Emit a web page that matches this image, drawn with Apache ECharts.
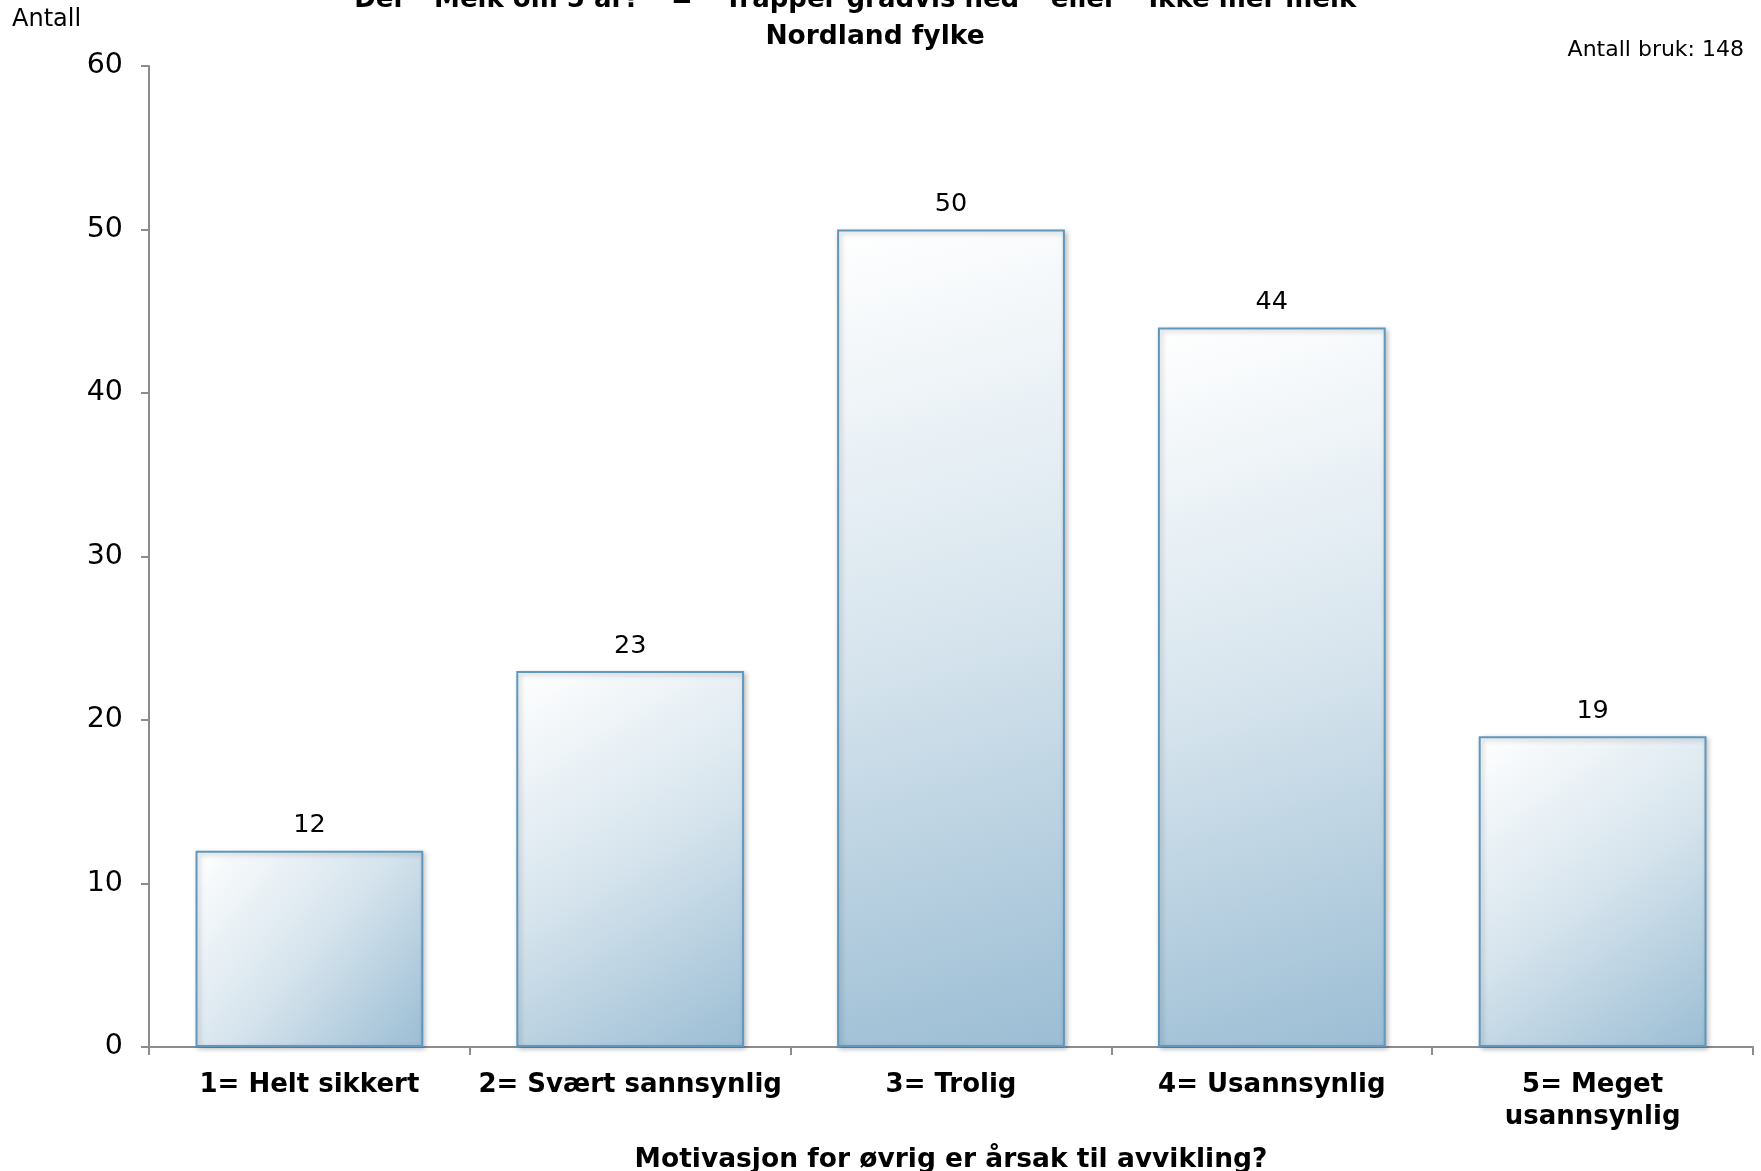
<!DOCTYPE html>
<html>
<head>
<meta charset="utf-8">
<title>Nordland fylke</title>
<script src="https://cdn.jsdelivr.net/npm/echarts@6/dist/echarts.min.js"></script>
<style>
  html, body { margin: 0; padding: 0; background: #fff; }
  #main { width: 1761px; height: 1171px; }
</style>
</head>
<body>
<div id="main"></div>
<script>
var categories = ['1= Helt sikkert', '2= Svært sannsynlig', '3= Trolig', '4= Usannsynlig', '5= Meget\nusannsynlig'];
var antall = [12, 23, 50, 44, 19];
var yTicks = [0, 10, 20, 30, 40, 50, 60];

function showChart() {
    var dom = document.getElementById('main');
    var myChart = echarts.init(dom);
    var font = '"DejaVu Sans", Verdana, sans-serif';

    var option = {
        backgroundColor: '#fff',
        animation: false,
        textStyle: { fontFamily: font },
        grid: { left: 149, right: 8, top: 66, bottom: 124, containLabel: false, outerBoundsMode: 'none' },
        graphic: [
            {
                type: 'text', left: 12, top: 8,
                style: { text: 'Antall', fontFamily: font, fontSize: 24, fill: '#000' }
            },
            {
                type: 'text', x: 862, y: 13,
                style: {
                    text: 'Del  "Melk om 5 år?"  =  "Trapper gradvis ned"  eller  "Ikke mer melk"',
                    fontFamily: font, fontSize: 26, fontWeight: 'bold', fill: '#000',
                    align: 'center', verticalAlign: 'bottom'
                }
            },
            {
                type: 'text', x: 875, y: 37,
                style: {
                    text: 'Nordland fylke', fontFamily: font, fontSize: 26.5, fontWeight: 'bold',
                    fill: '#000', align: 'center', verticalAlign: 'middle'
                }
            },
            {
                type: 'text', x: 1744, y: 50,
                style: {
                    text: 'Antall bruk: 148', fontFamily: font, fontSize: 22, fill: '#000',
                    align: 'right', verticalAlign: 'middle'
                }
            }
        ],
        xAxis: {
            type: 'category',
            data: categories,
            name: 'Motivasjon for øvrig er årsak til avvikling?',
            nameLocation: 'middle',
            nameGap: 100,
            nameTextStyle: { fontFamily: font, fontSize: 26.5, fontWeight: 'bold', color: '#000' },
            axisLine: { lineStyle: { color: '#8c8c8c', width: 2 } },
            axisTick: { show: true, alignWithLabel: false, length: 8, lineStyle: { color: '#8c8c8c', width: 2 } },
            axisLabel: {
                interval: 0, margin: 22, fontFamily: font, fontSize: 26, fontWeight: 'bold',
                color: '#000', lineHeight: 32
            }
        },
        yAxis: {
            type: 'value',
            min: yTicks[0],
            max: yTicks[yTicks.length - 1],
            interval: 10,
            splitLine: { show: false },
            axisLine: { show: true, lineStyle: { color: '#8c8c8c', width: 2 } },
            axisTick: { show: true, length: 8, lineStyle: { color: '#8c8c8c', width: 2 } },
            axisLabel: { margin: 26, fontFamily: font, fontSize: 28.5, color: '#000' }
        },
        series: [{
            type: 'bar',
            data: antall,
            barWidth: '71%',
            itemStyle: {
                color: new echarts.graphic.LinearGradient(0, 0, 1, 1, [
                    { offset: 0, color: '#ffffff' },
                    { offset: 0.5, color: '#d6e4ed' },
                    { offset: 1, color: '#9bbdd4' }
                ]),
                borderColor: '#5f97bf',
                borderWidth: 2,
                shadowBlur: 5,
                shadowColor: 'rgba(0,0,0,0.25)',
                shadowOffsetX: 2,
                shadowOffsetY: 2
            },
            label: {
                show: true,
                position: 'top',
                distance: 12,
                fontFamily: font,
                fontSize: 25.5,
                color: '#000'
            }
        }]
    };

    if (option && typeof option === 'object') {
        myChart.setOption(option, true);
    }

    window.addEventListener('resize', function () {
        myChart.resize();
    });
}

showChart();
</script>
</body>
</html>
